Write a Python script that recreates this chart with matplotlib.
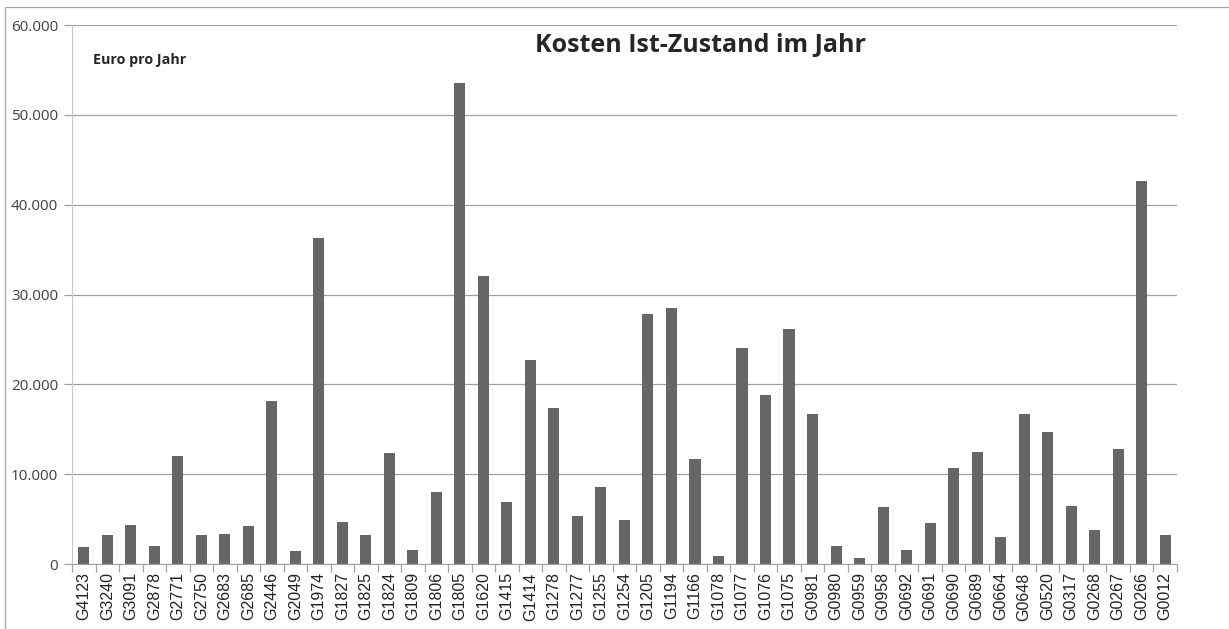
import matplotlib.pyplot as plt
from matplotlib.ticker import FuncFormatter, MultipleLocator, FixedLocator
from matplotlib.patches import Rectangle

codes = ['G4123', 'G3240', 'G3091', 'G2878', 'G2771', 'G2750', 'G2683', 'G2685',
         'G2446', 'G2049', 'G1974', 'G1827', 'G1825', 'G1824', 'G1809', 'G1806',
         'G1805', 'G1620', 'G1415', 'G1414', 'G1278', 'G1277', 'G1255', 'G1254',
         'G1205', 'G1194', 'G1166', 'G1078', 'G1077', 'G1076', 'G1075', 'G0981',
         'G0980', 'G0959', 'G0958', 'G0692', 'G0691', 'G0690', 'G0689', 'G0664',
         'G0648', 'G0520', 'G0317', 'G0268', 'G0267', 'G0266', 'G0012']

kosten = [1900, 3200, 4300, 2000, 12000, 3200, 3300, 4200,
          18200, 1400, 36300, 4700, 3200, 12400, 1600, 8000,
          53600, 32100, 6900, 22700, 17400, 5300, 8600, 4900,
          27800, 28500, 11700, 900, 24100, 18800, 26200, 16700,
          2000, 700, 6400, 1600, 4600, 10700, 12500, 3000,
          16700, 14700, 6500, 3800, 12800, 42600, 3200]

title_str = 'Kosten Ist-Zustand im Jahr'
unit_str = 'Euro pro Jahr'


def thousands(v, pos):
    return f'{int(v):,}'.replace(',', '.')


fig = plt.figure(figsize=(12.29, 6.29), dpi=100)
ax = fig.add_axes([0.0586, 0.1033, 0.899, 0.8567])

# thin frame around the whole chart
fig.patches.append(Rectangle((5 / 1229, -0.01), 1.1, 1 - 7 / 629 + 0.01,
                             transform=fig.transFigure, fill=False,
                             edgecolor='#a6a6a6', linewidth=0.9))

x = list(range(len(codes)))
ax.bar(x, kosten, width=0.47, color='#666666', zorder=3)

ax.set_xlim(-0.5, len(codes) - 0.5)
ax.set_ylim(0, 60000)
ax.yaxis.set_major_locator(MultipleLocator(10000))
ax.yaxis.set_major_formatter(FuncFormatter(thousands))
ax.grid(axis='y', color='#a0a0a0', linewidth=0.9, zorder=0)

ax.set_xticks(x)
ax.set_xticklabels(codes, rotation=90, fontsize=11.5, family='Liberation Sans', color='#222222')
ax.tick_params(axis='x', length=0, pad=6)
ax.xaxis.set_minor_locator(FixedLocator([i - 0.5 for i in range(len(codes) + 1)]))
ax.tick_params(axis='x', which='minor', length=6, color='#a0a0a0', width=0.9)
ax.tick_params(axis='y', length=6, color='#a0a0a0', width=0.9, labelsize=11, pad=4,
               labelcolor='#404040')
for lab in ax.get_yticklabels():
    lab.set_family('Open Sans')

for side in ['top', 'right']:
    ax.spines[side].set_visible(False)
ax.spines['left'].set_color('#c8c8c8')
ax.spines['bottom'].set_color('#a0a0a0')
ax.spines['bottom'].set_zorder(4)

fig.text(700 / 1229, 1 - 52 / 629, title_str, ha='center', va='baseline',
         fontsize=18, fontweight='bold', family='Open Sans', color='#262626')
fig.text(93 / 1229, 1 - 64 / 629, unit_str, ha='left', va='baseline',
         fontsize=10.3, fontweight='bold', family='Open Sans', color='#262626')

plt.savefig('out.png', dpi=100)
